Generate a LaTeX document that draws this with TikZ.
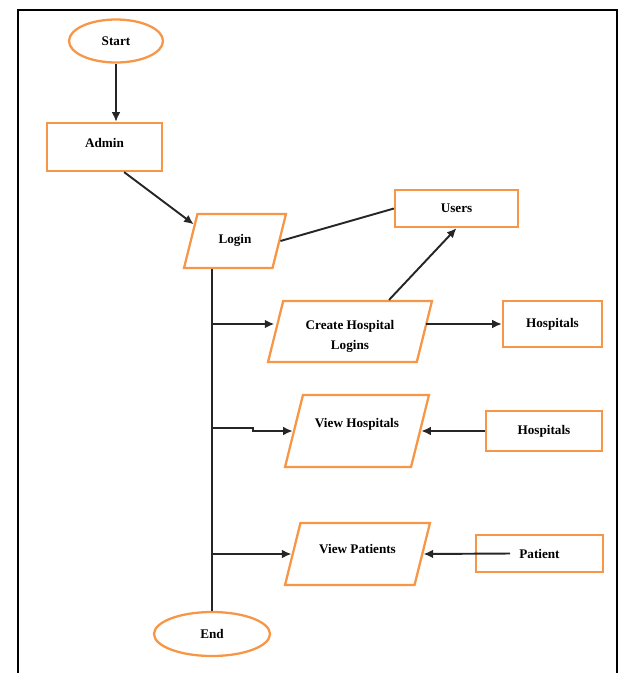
\documentclass[tikz,border=0pt]{standalone}
\usepackage{fontspec}
\setmainfont{Liberation Serif}
\usetikzlibrary{shapes.geometric,arrows.meta}
\definecolor{flow}{RGB}{247,150,70}

\begin{document}
\begin{tikzpicture}[x=0.02cm,y=-0.02cm,
        term/.style={ellipse,draw=flow,line width=1.3pt,inner sep=0pt},
        box/.style={rectangle,draw=flow,line width=1.3pt,inner sep=0pt},
        io/.style={trapezium,trapezium left angle=76,trapezium right angle=104,
            trapezium stretches body,draw=flow,line width=1.3pt,inner sep=0pt,align=center},
        arr/.style={-{Latex[length=5.5pt,width=5pt]},line width=1.1pt,draw=black!85},
        font=\fontsize{7.5}{11}\selectfont\bfseries]
        \useasboundingbox (0,0) rectangle (620,673);
        \draw[line width=1.5pt] (18,673) -- (18,10) -- (617,10) -- (617,673);

        \node [term,minimum width=1.88cm,minimum height=0.86cm] (start) at (116,41) {Start};
        \node [box,minimum width=2.3cm,text height=0.48cm,text depth=0.48cm] (admin) at (104.5,147) {Admin};
        \node [io,minimum width=2.04cm,text height=0.59cm,text depth=0.49cm] (login) at (235,241) {Login};
        \node [box,minimum width=2.46cm,minimum height=0.74cm] (users) at (456.5,208.5) {Users};
        \node [io,minimum width=3.28cm,text height=0.96cm,text depth=0.26cm] (create) at (350,331.5) {Create Hospital\\Logins};
        \node [box,minimum width=1.98cm,minimum height=0.92cm] (hospa) at (552.5,324) {Hospitals};
        \node [io,minimum width=2.88cm,text height=0.64cm,text depth=0.8cm] (viewh) at (357,431) {View Hospitals};
        \node [box,minimum width=2.32cm,minimum height=0.8cm] (hospb) at (544,431) {Hospitals};
        \node [io,minimum width=2.9cm,text height=0.6cm,text depth=0.64cm] (viewp) at (357.5,554) {View Patients};
        \node [box,minimum width=2.54cm,minimum height=0.74cm] (patient) at (539.5,553.5) {Patient};
        \node [term,minimum width=2.32cm,minimum height=0.88cm] (end) at (212,634) {End};

        \coordinate (jog) at (212,428);
        \coordinate (patin) at (510,553.5);

        \draw[arr] (start) -- (start |- admin.north);
        \draw[arr] (admin.-52) -- (login.158);
        \draw[line width=1.1pt,black!85] (login.east) -- (users.west);
        \draw[arr] (create.39) -- (users.south);
        \draw[arr] (create.east |- hospa.west) -- (hospa.west);
        \draw[line width=1.1pt,black!85] (login.south -| end.north) -- (end.north);
        \draw[arr] (end.north |- hospa.west) -- (create.west |- hospa.west);
        \draw[arr] (jog) -- ++(41,0) |- (viewh.west);
        \draw[arr] (viewp.west -| end.north) -- (viewp.west);
        \draw[arr] (hospb.west) -- (viewh.east);
        \draw[arr] (patin) -- (viewp.east);
\end{tikzpicture}
\end{document}
